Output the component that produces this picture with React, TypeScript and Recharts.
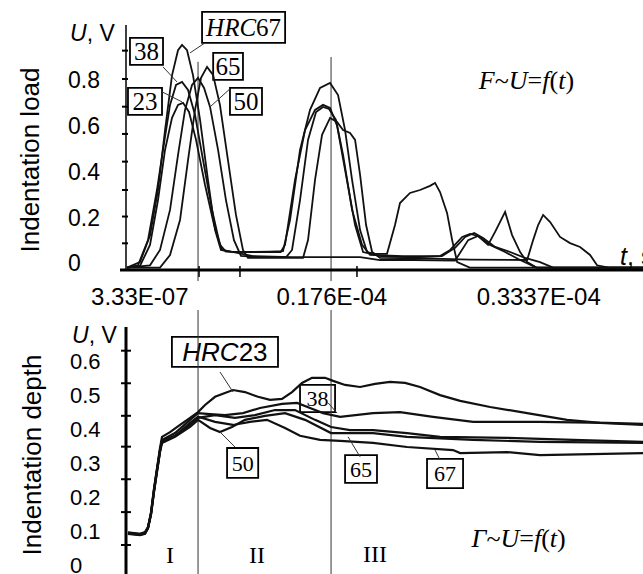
import React from 'react';
import { LineChart, Line, XAxis, YAxis, ReferenceLine, ReferenceArea, ReferenceDot } from 'recharts';

type P = { t: number; v: number };
const pts = (a: number[][]): P[] => a.map(([t, v]) => ({ t, v }));

// time axis, microseconds
const TIME_DOMAIN: [number, number] = [-0.908, 45.58];
const timeTickPositions = [0.333, 17.6, 36.2];
const timeTickLabels = ['3.33E-07', '0.176E-04', '0.3337E-04'];
const timeTickMarks = [5.66, 9.34, 17.6, 19.86];
const regionBoundaries = [5.57, 17.53];

// top chart: indentation load U (V)
const LOAD_DOMAIN: [number, number] = [-0.0306, 1.04];
const loadTickLabels = [0, 0.2, 0.4, 0.6, 0.8];
const loadTickMarks = [0.086, 0.203, 0.319, 0.443, 0.564, 0.683, 0.804, 0.928];

const load67 = pts([[-0.82,-0.02],[0.35,0.004],[1.25,0.12],[1.97,0.32],[2.60,0.58],[3.23,0.82],[3.77,0.93],[4.13,0.953],[4.58,0.93],[5.12,0.82],[5.75,0.625],[6.47,0.36],[7.10,0.144],[7.63,0.057],[8.5,0.05],[10.2,0.048],[12.0,0.05],[13.21,0.052],[13.84,0.188],[14.74,0.494],[15.64,0.669],[16.54,0.765],[17.44,0.787],[18.16,0.734],[18.79,0.581],[19.42,0.363],[20.14,0.144],[20.77,0.048],[21.5,0.04],[22.56,0.04],[23.28,0.166],[23.73,0.262],[24.63,0.306],[25.53,0.319],[26.43,0.337],[26.88,0.35],[27.33,0.31],[27.96,0.219],[28.42,0.1],[28.87,0.004],[30,-0.02],[45.58,-0.02]]);
const load38 = pts([[-0.82,-0.02],[0.17,-0.01],[1.07,0.1],[1.88,0.32],[2.42,0.494],[3.05,0.691],[3.59,0.778],[4.13,0.791],[4.67,0.756],[5.30,0.647],[6.02,0.45],[6.83,0.232],[7.54,0.079],[8.08,0.05],[10.0,0.048],[13.0,0.048],[13.39,0.079],[14.29,0.363],[15.19,0.581],[16.09,0.669],[16.81,0.691],[17.44,0.678],[18.07,0.6],[18.79,0.407],[19.69,0.166],[20.41,0.048],[22.0,0.03],[25.0,0.025],[27.33,0.03],[28.24,0.057],[29.32,0.114],[30.03,0.127],[30.75,0.118],[31.65,0.079],[32.28,0.136],[33.18,0.223],[33.81,0.122],[34.53,0.048],[35.16,0.004],[36.0,-0.02],[45.58,-0.02]]);
const load23 = pts([[-0.82,-0.02],[0.35,-0.013],[1.25,0.079],[1.97,0.275],[2.60,0.494],[3.23,0.634],[3.77,0.691],[4.22,0.7],[4.76,0.66],[5.39,0.538],[6.20,0.341],[7.01,0.166],[7.72,0.057],[9.0,0.045],[10.5,0.03],[14.0,0.026],[18.0,0.026],[20.14,0.026],[21.93,0.013],[25.0,0.013],[28.68,0.01],[29.86,0.1],[30.75,0.118],[31.83,0.079],[33.18,0.048],[34.53,0.013],[36.0,-0.02],[45.58,-0.02]]);
const load50 = pts([[-0.82,-0.02],[1.25,-0.01],[2.15,0.057],[3.05,0.232],[3.77,0.472],[4.40,0.669],[5.03,0.778],[5.57,0.809],[6.11,0.765],[6.65,0.682],[7.37,0.494],[8.08,0.275],[8.80,0.1],[9.43,0.031],[11.0,0.026],[13.5,0.026],[14.02,0.057],[14.74,0.275],[15.46,0.538],[16.18,0.66],[16.81,0.682],[17.35,0.673],[17.98,0.625],[18.61,0.472],[19.42,0.232],[20.32,0.079],[21.04,0.035],[24.0,0.03],[27.5,0.03],[28.68,0.066],[29.59,0.114],[30.40,0.131],[31.20,0.109],[32.28,0.07],[33.63,0.048],[34.98,0.022],[36.32,0.004],[37.5,-0.02],[45.58,-0.02]]);
const load65 = pts([[-0.82,-0.02],[2.15,-0.02],[3.05,0.035],[3.95,0.188],[4.67,0.45],[5.30,0.669],[5.84,0.809],[6.38,0.857],[6.92,0.822],[7.54,0.691],[8.26,0.45],[8.98,0.21],[9.61,0.057],[10.06,0.022],[12.0,0.022],[15.01,0.022],[15.46,0.1],[16.09,0.363],[16.72,0.56],[17.44,0.634],[18.07,0.616],[18.61,0.581],[19.24,0.568],[19.69,0.538],[20.14,0.385],[20.68,0.166],[21.22,0.048],[21.93,0.022],[26.0,0.02],[30.0,0.015],[35.16,0.013],[35.70,0.1],[36.15,0.166],[36.60,0.21],[37.23,0.179],[38.12,0.114],[39.02,0.087],[39.92,0.07],[40.82,0.035],[41.45,-0.01],[42.5,-0.02],[45.58,-0.02]]);

// bottom chart: indentation depth U (V)
const DEPTH_DOMAIN: [number, number] = [-0.0442, 0.752];
const depthTickLabels = [0, 0.1, 0.2, 0.3, 0.4, 0.5, 0.6];
const depthTickMarks = [0.059, 0.156, 0.253, 0.349, 0.44, 0.536, 0.632];

const depth23 = pts([[-0.73,0.094],[0.35,0.09],[0.80,0.094],[1.07,0.11],[1.34,0.155],[1.61,0.225],[1.88,0.285],[2.15,0.345],[2.33,0.378],[3.05,0.392],[3.95,0.413],[4.85,0.434],[5.57,0.451],[6.20,0.472],[7.10,0.496],[7.99,0.507],[8.71,0.516],[9.79,0.51],[10.96,0.496],[12.04,0.487],[13.12,0.49],[14.02,0.51],[14.92,0.537],[15.82,0.552],[16.99,0.552],[17.71,0.543],[18.79,0.531],[20.14,0.525],[21.49,0.534],[22.83,0.54],[24.18,0.537],[25.53,0.525],[27.33,0.501],[29.14,0.484],[31.83,0.466],[35.16,0.448],[38.75,0.428],[41.72,0.419],[45.58,0.413]]);
const depth38 = pts([[-0.73,0.096],[0.35,0.092],[0.80,0.097],[1.07,0.112],[1.34,0.15],[1.61,0.218],[1.88,0.278],[2.15,0.336],[2.33,0.369],[3.50,0.389],[4.85,0.428],[5.57,0.448],[6.65,0.445],[7.99,0.442],[9.61,0.448],[11.14,0.463],[13.12,0.475],[14.48,0.478],[15.64,0.463],[16.81,0.448],[18.34,0.437],[21.31,0.448],[23.73,0.451],[26.70,0.437],[30.31,0.422],[36.32,0.422],[42.35,0.419],[45.58,0.416]]);
const depth50 = pts([[-0.73,0.092],[0.35,0.088],[0.80,0.092],[1.07,0.108],[1.34,0.148],[1.61,0.215],[1.88,0.275],[2.15,0.333],[2.33,0.36],[3.50,0.378],[4.85,0.407],[5.57,0.428],[6.65,0.404],[7.54,0.392],[8.62,0.407],[9.79,0.428],[11.59,0.44],[13.39,0.448],[15.19,0.428],[17.53,0.389],[21.31,0.389],[24.36,0.378],[30.31,0.369],[36.32,0.363],[45.58,0.36]]);
const depth65 = pts([[-0.73,0.095],[0.35,0.091],[0.80,0.095],[1.07,0.111],[1.34,0.153],[1.61,0.222],[1.88,0.282],[2.15,0.34],[2.33,0.363],[3.50,0.381],[4.85,0.413],[5.57,0.434],[7.10,0.442],[8.89,0.434],[10.69,0.442],[12.49,0.457],[14.29,0.457],[16.09,0.428],[17.53,0.407],[19.24,0.398],[21.31,0.398],[24.36,0.389],[27.33,0.378],[33.36,0.375],[39.29,0.369],[45.58,0.363]]);
const depth67 = pts([[-0.73,0.093],[0.35,0.089],[0.80,0.093],[1.07,0.109],[1.34,0.151],[1.61,0.219],[1.88,0.279],[2.15,0.337],[2.33,0.366],[3.50,0.381],[4.85,0.419],[5.57,0.437],[7.10,0.422],[8.71,0.413],[10.24,0.422],[11.77,0.428],[13.39,0.404],[14.74,0.381],[16.54,0.369],[18.34,0.366],[21.31,0.36],[24.36,0.348],[28.50,0.339],[29.14,0.33],[33.36,0.333],[36.32,0.324],[45.58,0.33]]);

const loadSeries = [
  { name: 'HRC 23', data: load23 },
  { name: 'HRC 38', data: load38 },
  { name: 'HRC 50', data: load50 },
  { name: 'HRC 65', data: load65 },
  { name: 'HRC 67', data: load67 },
];
const depthSeries = [
  { name: 'HRC 23', data: depth23 },
  { name: 'HRC 38', data: depth38 },
  { name: 'HRC 50', data: depth50 },
  { name: 'HRC 65', data: depth65 },
  { name: 'HRC 67', data: depth67 },
];

type Box = { t1: number; t2: number; v1: number; v2: number; pre: string; txt: string; sans?: boolean; fs: number };
const loadBoxes: Box[] = [
  { t1: 5.93, t2: 13.4, v1: 0.962, v2: 1.097, pre: 'HRC', txt: '67', fs: 25 },
  { t1: -0.55, t2: 2.42, v1: 0.866, v2: 0.984, pre: '', txt: '38', fs: 25 },
  { t1: -0.73, t2: 2.33, v1: 0.647, v2: 0.765, pre: '', txt: '23', fs: 25 },
  { t1: 6.93, t2: 9.61, v1: 0.8, v2: 0.918, pre: '', txt: '65', fs: 25 },
  { t1: 8.44, t2: 11.32, v1: 0.647, v2: 0.765, pre: '', txt: '50', fs: 25 },
];
const loadLeaders = [
  [6.2, 0.962, 4.85, 0.918],
  [2.42, 0.857, 3.68, 0.791],
  [2.33, 0.748, 4.13, 0.704],
  [8.44, 0.761, 6.65, 0.682],
];
const depthBoxes: Box[] = [
  { t1: 3.22, t2: 12.76, v1: 0.584, v2: 0.673, pre: 'HRC', txt: '23', sans: true, fs: 26 },
  { t1: 14.74, t2: 17.89, v1: 0.451, v2: 0.531, pre: '', txt: '38', fs: 22 },
  { t1: 8.18, t2: 10.98, v1: 0.257, v2: 0.345, pre: '', txt: '50', fs: 22 },
  { t1: 18.79, t2: 21.66, v1: 0.242, v2: 0.324, pre: '', txt: '65', fs: 22 },
  { t1: 26.16, t2: 29.4, v1: 0.227, v2: 0.313, pre: '', txt: '67', fs: 22 },
];
const depthLeaders = [
  [7.55, 0.569, 8.72, 0.51],
  [17.27, 0.478, 18.07, 0.448],
  [8.89, 0.348, 7.55, 0.392],
  [20.14, 0.319, 19.06, 0.378],
  [27.33, 0.31, 26.88, 0.339],
];

const SANS = '"Liberation Sans", Arial, sans-serif';
const SERIF = '"Liberation Serif", "Times New Roman", serif';

// axis tick renderer: draws the short mark for unlabelled tick values, and the text for labelled ones
const makeYTick = (labels: number[], fs: number, lx: number, mL: number, mR: number) => (props: any) => {
  const { x, y, payload } = props;
  const v = payload.value;
  const isLabel = labels.indexOf(v) >= 0;
  return (
    <g>
      {!isLabel && <path d={`M${x - mL},${y}H${x + mR}`} stroke="#000" strokeWidth={2} fill="none" />}
      {isLabel && (
        <text x={x - lx} y={y} dy="0.36em" textAnchor="start" fontFamily={SANS} fontSize={fs} fill="#000">
          {String(v)}
        </text>
      )}
    </g>
  );
};

const xTick = (props: any) => {
  const { x, y, payload } = props;
  const i = timeTickPositions.indexOf(payload.value);
  return (
    <g>
      {i < 0 && <path d={`M${x},${y - 4}V${y + 7}`} stroke="#000" strokeWidth={1.5} fill="none" />}
      {i >= 0 && (
        <text x={x} y={y + 26} dy="0.36em" textAnchor="middle" fontFamily={SANS} fontSize={24} fill="#000">
          {timeTickLabels[i]}
        </text>
      )}
    </g>
  );
};

const axisTitle = (unitDy: number, unitX: number, titleX: number, titleCy: number, title: string) => (props: any) => {
  const vb = props.viewBox || { x: 0, y: 0 };
  return (
    <g>
      <text x={unitX} y={vb.y + unitDy} dy="0.36em" fontFamily={SANS} fontSize={23} fill="#000">
        <tspan fontStyle="italic">U</tspan>, V
      </text>
      <text transform={`translate(${titleX}, ${titleCy}) rotate(-90)`} textAnchor="middle" fontFamily={SANS} fontSize={26} fill="#000">
        {title}
      </text>
    </g>
  );
};

const boxLabel = (b: Box) => (props: any) => {
  const vb = props.viewBox;
  return (
    <text x={vb.x + vb.width / 2} y={vb.y + vb.height / 2} dy="0.35em" textAnchor="middle" fontFamily={b.sans ? SANS : SERIF} fontSize={b.fs} fill="#000">
      {b.pre && <tspan fontStyle="italic">{b.pre}</tspan>}
      {b.txt}
    </text>
  );
};

const textAt = (content: React.ReactNode, anchor: string, fs: number, family: string) => (props: any) => {
  const vb = props.viewBox;
  return (
    <text x={vb.x + (vb.width || 0) / 2} y={vb.y + (vb.height || 0) / 2} dy="0.36em" textAnchor={anchor} fontFamily={family} fontSize={fs} fill="#000">
      {content}
    </text>
  );
};

const formulaLoad = (
  <>
    <tspan fontStyle="italic">F</tspan>~<tspan fontStyle="italic">U</tspan>=<tspan fontStyle="italic">f</tspan>(<tspan fontStyle="italic">t</tspan>)
  </>
);
const formulaDepth = (
  <>
    <tspan fontStyle="italic">Γ</tspan>~<tspan fontStyle="italic">U</tspan>=<tspan fontStyle="italic">f</tspan>(<tspan fontStyle="italic">t</tspan>)
  </>
);
const timeUnit = (
  <>
    <tspan fontStyle="italic">t</tspan>, s
  </>
);
const regions = [
  { t: 3.05, v: 0.03, label: 'I' },
  { t: 10.87, v: 0.03, label: 'II' },
  { t: 21.48, v: 0.035, label: 'III' },
];

export default function App() {
  const xa = TIME_DOMAIN[0];
  return (
    <div style={{ position: 'absolute', left: 0, top: 0, width: 643, height: 574, overflow: 'hidden', background: '#fff' }}>
      <div style={{ position: 'absolute', left: 0, top: 0 }}>
        <LineChart width={643} height={310} margin={{ top: 25, right: 0, bottom: 0, left: 0 }}>
          <XAxis
            type="number"
            dataKey="t"
            domain={TIME_DOMAIN}
            allowDataOverflow
            ticks={[timeTickPositions[0], timeTickMarks[0], timeTickMarks[1], timeTickPositions[1], timeTickMarks[3], timeTickPositions[2]]}
            interval={0}
            tickSize={0}
            tickMargin={0}
            tick={xTick}
            tickLine={false}
            axisLine={{ stroke: '#000', strokeWidth: 3 }}
            height={40}
          />
          <YAxis
            type="number"
            dataKey="v"
            domain={LOAD_DOMAIN}
            allowDataOverflow
            ticks={[...loadTickLabels, ...loadTickMarks].sort((a, b) => a - b)}
            interval={0}
            tickSize={0}
            tickMargin={0}
            tick={makeYTick(loadTickLabels, 23, 58, 4, 2)}
            tickLine={false}
            axisLine={{ stroke: '#000', strokeWidth: 1.5 }}
            width={126}
            label={axisTitle(8, 70, 39, 160, 'Indentation load')}
          />
          <ReferenceLine segment={[{ x: -1.45, y: LOAD_DOMAIN[0] }, { x: xa, y: LOAD_DOMAIN[0] }]} stroke="#000" strokeWidth={3} ifOverflow="visible" />
          <ReferenceLine segment={[{ x: regionBoundaries[0], y: 0.879 }, { x: regionBoundaries[0], y: -0.079 }]} stroke="#333" strokeWidth={1} ifOverflow="visible" />
          <ReferenceLine segment={[{ x: regionBoundaries[1], y: 0.9 }, { x: regionBoundaries[1], y: -0.079 }]} stroke="#333" strokeWidth={1} ifOverflow="visible" />
          {loadSeries.map((s) => (
            <Line key={s.name} name={s.name} data={s.data} dataKey="v" type="linear" stroke="#111" strokeWidth={1.8} dot={false} isAnimationActive={false} />
          ))}
          {loadLeaders.map((l, i) => (
            <ReferenceLine key={'ll' + i} segment={[{ x: l[0], y: l[1] }, { x: l[2], y: l[3] }]} stroke="#333" strokeWidth={1} ifOverflow="visible" />
          ))}
          {loadBoxes.map((b, i) => (
            <ReferenceArea key={'lb' + i} x1={b.t1} x2={b.t2} y1={b.v1} y2={b.v2} fill="#fff" fillOpacity={1} stroke="#000" strokeWidth={1.8} ifOverflow="visible" label={boxLabel(b)} />
          ))}
          <ReferenceDot x={35.1} y={0.8} r={0} fill="none" stroke="none" label={textAt(formulaLoad, 'middle', 26, SERIF)} />
          <ReferenceDot x={43.52} y={0.03} r={0} fill="none" stroke="none" ifOverflow="visible" label={textAt(timeUnit, 'start', 25, SANS)} />
        </LineChart>
      </div>
      <div style={{ position: 'absolute', left: 0, top: 300 }}>
        <LineChart width={643} height={285} margin={{ top: 10, right: 0, bottom: 5, left: 0 }}>
          <XAxis type="number" dataKey="t" domain={TIME_DOMAIN} allowDataOverflow hide height={0} />
          <YAxis
            type="number"
            dataKey="v"
            domain={DEPTH_DOMAIN}
            allowDataOverflow
            ticks={[...depthTickLabels, ...depthTickMarks].sort((a, b) => a - b)}
            interval={0}
            tickSize={0}
            tickMargin={0}
            tick={makeYTick(depthTickLabels, 22, 56, 5, 5)}
            tickLine={false}
            axisLine={false}
            width={126}
            label={axisTitle(25, 72, 41, 155, 'Indentation depth')}
          />
          <ReferenceLine segment={[{ x: xa, y: 0.702 }, { x: xa, y: DEPTH_DOMAIN[0] }]} stroke="#000" strokeWidth={3} ifOverflow="visible" />
          {regionBoundaries.map((t, i) => (
            <ReferenceLine key={'rb' + i} segment={[{ x: t, y: DEPTH_DOMAIN[1] }, { x: t, y: DEPTH_DOMAIN[0] }]} stroke="#333" strokeWidth={1} ifOverflow="visible" />
          ))}
          {depthSeries.map((s) => (
            <Line key={s.name} name={s.name} data={s.data} dataKey="v" type="linear" stroke="#111" strokeWidth={2.2} dot={false} isAnimationActive={false} />
          ))}
          {depthLeaders.map((l, i) => (
            <ReferenceLine key={'dl' + i} segment={[{ x: l[0], y: l[1] }, { x: l[2], y: l[3] }]} stroke="#333" strokeWidth={1} ifOverflow="visible" />
          ))}
          {depthBoxes.map((b, i) => (
            <ReferenceArea key={'db' + i} x1={b.t1} x2={b.t2} y1={b.v1} y2={b.v2} fill="#fff" fillOpacity={1} stroke="#000" strokeWidth={1.8} ifOverflow="visible" label={boxLabel(b)} />
          ))}
          {regions.map((r) => (
            <ReferenceDot key={r.label} x={r.t} y={r.v} r={0} fill="none" stroke="none" label={textAt(r.label, 'middle', 24, SERIF)} />
          ))}
          <ReferenceDot x={34.4} y={0.08} r={0} fill="none" stroke="none" label={textAt(formulaDepth, 'middle', 26, SERIF)} />
        </LineChart>
      </div>
    </div>
  );
}
